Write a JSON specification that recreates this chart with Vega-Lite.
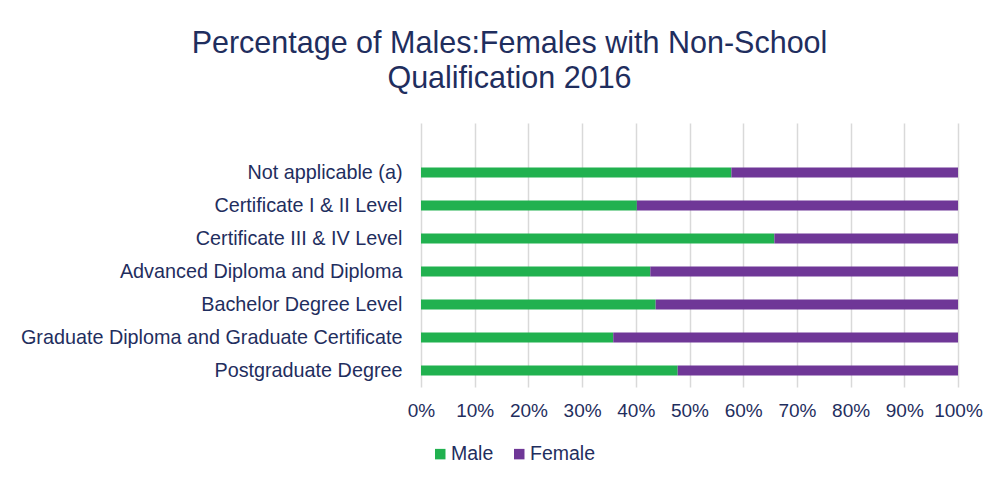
{
  "$schema": "https://vega.github.io/schema/vega-lite/v6.json",
  "width": 537,
  "height": 264,
  "autosize": {"type": "none"},
  "padding": {"left": 421, "top": 123, "right": 39, "bottom": 90},
  "background": "white",
  "title": {
    "text": ["Percentage of Males:Females with Non-School", "Qualification 2016"],
    "font": "Liberation Sans",
    "fontSize": 30.5,
    "fontWeight": "normal",
    "color": "#1F2E5E",
    "anchor": "middle",
    "dx": -180,
    "offset": 29,
    "lineHeight": 35
  },
  "data": {
    "values": [
      {"category": "Not applicable (a)", "sex": "Male", "share": 0.578},
      {"category": "Not applicable (a)", "sex": "Female", "share": 0.422},
      {"category": "Certificate I & II Level", "sex": "Male", "share": 0.402},
      {"category": "Certificate I & II Level", "sex": "Female", "share": 0.598},
      {"category": "Certificate III & IV Level", "sex": "Male", "share": 0.658},
      {"category": "Certificate III & IV Level", "sex": "Female", "share": 0.342},
      {"category": "Advanced Diploma and Diploma", "sex": "Male", "share": 0.427},
      {"category": "Advanced Diploma and Diploma", "sex": "Female", "share": 0.573},
      {"category": "Bachelor Degree Level", "sex": "Male", "share": 0.437},
      {"category": "Bachelor Degree Level", "sex": "Female", "share": 0.563},
      {"category": "Graduate Diploma and Graduate Certificate", "sex": "Male", "share": 0.358},
      {"category": "Graduate Diploma and Graduate Certificate", "sex": "Female", "share": 0.642},
      {"category": "Postgraduate Degree", "sex": "Male", "share": 0.478},
      {"category": "Postgraduate Degree", "sex": "Female", "share": 0.522}
    ]
  },
  "mark": {"type": "bar"},
  "encoding": {
    "y": {
      "field": "category",
      "type": "nominal",
      "scale": {
        "domain": [" ", "Not applicable (a)", "Certificate I & II Level", "Certificate III & IV Level", "Advanced Diploma and Diploma", "Bachelor Degree Level", "Graduate Diploma and Graduate Certificate", "Postgraduate Degree"],
        "paddingInner": 0.7,
        "paddingOuter": 0.35
      },
      "axis": {
        "title": null,
        "domain": false,
        "ticks": false,
        "grid": false,
        "labelFont": "Liberation Sans",
        "labelFontSize": 19.8,
        "labelColor": "#1F2E5E",
        "labelPadding": 19,
        "labelLimit": 500
      }
    },
    "x": {
      "field": "share",
      "type": "quantitative",
      "stack": true,
      "scale": {"domain": [0, 1], "nice": false},
      "axis": {
        "title": null,
        "format": ".0%",
        "values": [0, 0.1, 0.2, 0.3, 0.4, 0.5, 0.6, 0.7, 0.8, 0.9, 1],
        "domain": false,
        "ticks": false,
        "grid": true,
        "gridColor": "#D9D9D9",
        "gridWidth": 1.5,
        "labelFlush": false,
        "labelOverlap": false,
        "labelBound": false,
        "labelFont": "Liberation Sans",
        "labelFontSize": 19,
        "labelColor": "#1F2E5E",
        "labelPadding": 14
      }
    },
    "color": {
      "field": "sex",
      "type": "nominal",
      "scale": {"domain": ["Male", "Female"], "range": ["#21B14F", "#6F3797"]},
      "legend": {
        "title": null,
        "orient": "none",
        "direction": "horizontal",
        "legendX": 9.5,
        "legendY": 321,
        "symbolType": "square",
        "symbolSize": 110,
        "symbolStrokeWidth": 0,
        "labelFont": "Liberation Sans",
        "labelFontSize": 19.5,
        "labelColor": "#1F2E5E",
        "labelOffset": 1,
        "columnPadding": 16
      }
    },
    "order": {"field": "sex", "sort": "descending"}
  },
  "config": {"view": {"stroke": null}}
}
